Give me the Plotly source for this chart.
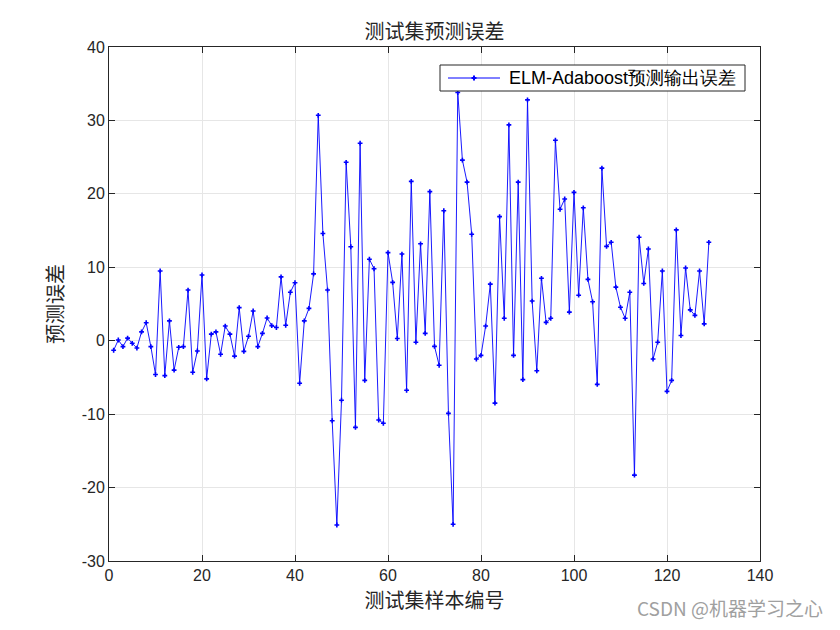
import plotly.graph_objects as go

sample_index = list(range(1, 130))
prediction_error = [
    -1.3, 0.1, -0.8, 0.35, -0.35, -1.0, 1.2, 2.45, -0.8, -4.6,
    9.5, -4.75, 2.7, -4.0, -0.9, -0.8, 6.9, -4.3, -1.4, 8.95,
    -5.2, 0.9, 1.2, -1.85, 2.0, 0.9, -2.1, 4.5, -1.45, 0.6,
    4.05, -0.8, 1.0, 3.1, 2.05, 1.8, 8.7, 2.1, 6.6, 7.9,
    -5.8, 2.7, 4.4, 9.1, 30.7, 14.6, 6.9, -10.9, -25.1, -8.1,
    24.3, 12.8, -11.8, 26.9, -5.4, 11.1, 9.8, -10.8, -11.25, 12.0,
    7.95, 0.3, 11.8, -6.75, 21.7, -0.2, 13.2, 1.0, 20.3, -0.77,
    -3.35, 17.7, -9.9, -25.0, 33.8, 24.6, 21.6, 14.5, -2.5, -2.0,
    2.0, 7.7, -8.5, 16.9, 3.05, 29.4, -2.0, 21.6, -5.3, 32.8,
    5.4, -4.1, 8.5, 2.5, 3.05, 27.3, 17.9, 19.3, 3.9, 20.2,
    6.2, 18.1, 8.35, 5.3, -5.95, 23.5, 12.85, 13.4, 7.3, 4.55,
    3.05, 6.6, -18.3, 14.1, 7.8, 12.5, -2.5, -0.2, 9.5, -6.9,
    -5.4, 15.1, 0.7, 9.9, 4.2, 3.45, 9.5, 2.3, 13.4,
]

title_text = "测试集预测误差"
x_label = "测试集样本编号"
y_label = "预测误差"
legend_label = "ELM-Adaboost预测输出误差"
watermark = "CSDN @机器学习之心"

x_ticks = [0, 20, 40, 60, 80, 100, 120, 140]
x_tick_text = ["0", "20", "40", "60", "80", "100", "120", "140"]
y_ticks = [-30, -20, -10, 0, 10, 20, 30, 40]
y_tick_text = ["-30", "-20", "-10", "0", "10", "20", "30", "40"]

cjk = "Noto Sans CJK SC"
latin = "Liberation Sans, Arial, sans-serif"
line_color = "#0000ff"

W, H = 832, 622
ML, MR, MT, MB = 101, 80, 39, 69
PW = W - ML - MR
PH = H - MT - MB


def px_x(p):
    # page pixel (with 8px body offset) -> paper x
    return (p - 8 - ML) / PW


def px_y(p):
    return 1 - (p - 8 - MT) / PH


fig = go.Figure()
fig.add_trace(go.Scatter(
    x=sample_index, y=prediction_error, mode="lines+markers",
    name=legend_label, showlegend=False,
    line=dict(color=line_color, width=0.9),
    marker=dict(symbol="cross", size=4, color=line_color),
))

axis_common = dict(
    showline=True, linecolor="#262626", linewidth=1, mirror="ticks",
    ticks="inside", ticklen=6, tickcolor="#262626",
    showgrid=True, gridcolor="#e6e6e6", gridwidth=1, zeroline=False,
    tickfont=dict(family=latin, size=16, color="#262626"),
)

# manual legend box (MATLAB style)
lx0, lx1, ly0, ly1 = 440, 745, 65, 91
ly = (ly0 + ly1) / 2
seg0, seg1 = 448, 500
mx = (seg0 + seg1) / 2
dxp, dyp = 2.5 / PW, 2.5 / PH
shapes = [
    dict(type="rect", xref="paper", yref="paper",
         x0=px_x(lx0), x1=px_x(lx1), y0=px_y(ly1), y1=px_y(ly0),
         fillcolor="white", line=dict(color="#262626", width=1), layer="above"),
    dict(type="line", xref="paper", yref="paper",
         x0=px_x(seg0), x1=px_x(seg1), y0=px_y(ly), y1=px_y(ly),
         line=dict(color=line_color, width=1), layer="above"),
    dict(type="path", xref="paper", yref="paper",
         path=(f"M {px_x(mx) - dxp} {px_y(ly)} L {px_x(mx) + dxp} {px_y(ly)} "
               f"M {px_x(mx)} {px_y(ly) - dyp} L {px_x(mx)} {px_y(ly) + dyp}"),
         line=dict(color=line_color, width=2), layer="above"),
]

annotations = [
    dict(text=legend_label, xref="paper", yref="paper",
         x=px_x(507), y=px_y(ly), xanchor="left", yanchor="middle",
         showarrow=False, font=dict(family=latin, size=18, color="black")),
    dict(text=watermark, xref="paper", yref="paper",
         x=1 + 65 / PW, y=-46 / PH, xanchor="right", yanchor="middle",
         showarrow=False, font=dict(family=cjk, size=19, color="#a0a0a0")),
]

fig.update_layout(
    width=W, height=H,
    paper_bgcolor="white", plot_bgcolor="white",
    margin=dict(l=ML, r=MR, t=MT, b=MB),
    title=dict(text=title_text, x=0.5, xref="paper", xanchor="center",
               y=1 - 24 / H, yanchor="middle",
               font=dict(family=cjk, size=20, color="#262626")),
    xaxis=dict(range=[0, 140], tickvals=x_ticks, ticktext=x_tick_text,
               title=dict(text=x_label, font=dict(family=cjk, size=20, color="#262626"), standoff=10),
               **axis_common),
    yaxis=dict(range=[-30, 40], tickvals=y_ticks, ticktext=y_tick_text,
               title=dict(text=y_label, font=dict(family=cjk, size=20, color="#262626"), standoff=12),
               **axis_common),
    showlegend=False,
    shapes=shapes,
    annotations=annotations,
)

fig.write_html("out.html")
